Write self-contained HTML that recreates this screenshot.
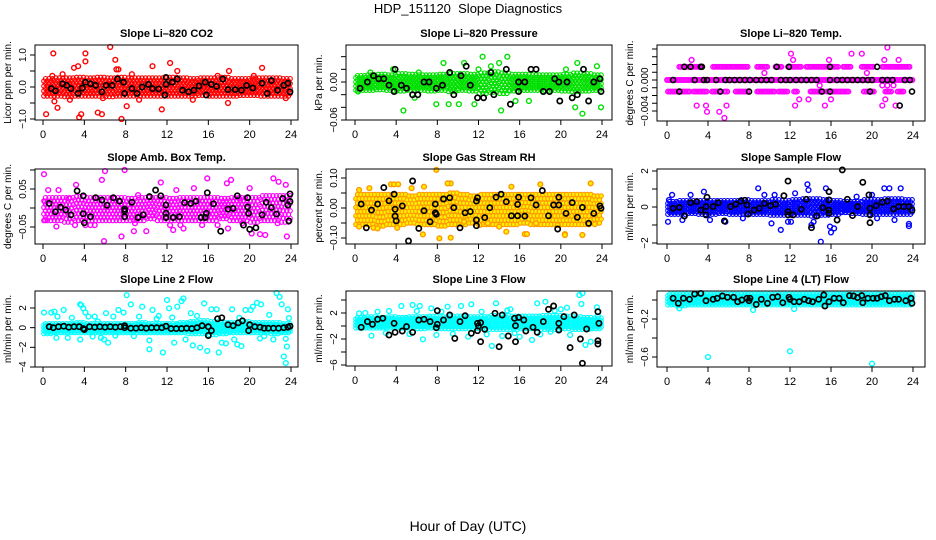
<!DOCTYPE html>
<html><head><meta charset="utf-8"><style>
html,body{margin:0;padding:0;background:#fff;}
svg{display:block;font-family:"Liberation Sans",Arial,sans-serif;}
</style></head><body>
<svg id="chart" width="936" height="540" viewBox="0 0 936 540" xmlns="http://www.w3.org/2000/svg">
<rect x="0" y="0" width="936" height="540" fill="#fff"/>
<text x="468" y="13" text-anchor="middle" font-size="13">HDP_151120&#160; Slope Diagnostics</text>
<text x="468" y="531" text-anchor="middle" font-size="14">Hour of Day (UTC)</text>
</svg>
<script>
// ---------- data ----------
const xTicks=[0,4,8,12,16,20,24];
// panel 1 CO2
const band1Lo=[-0.28,-0.28,-0.3,-0.28,-0.28,-0.28,-0.3,-0.28,-0.28,-0.28,-0.28,-0.28,-0.28,-0.28,-0.28,-0.26,-0.28,-0.28,-0.28,-0.26,-0.26,-0.28,-0.28,-0.28];
const band1Hi=[0.26,0.28,0.28,0.3,0.28,0.3,0.28,0.3,0.28,0.28,0.28,0.28,0.3,0.28,0.26,0.28,0.28,0.3,0.26,0.26,0.28,0.28,0.28,0.26];
const out1=[[1,1.05],[0.3,-0.85],[1.4,-0.65],[1.1,-0.45],[3.0,0.6],[3.4,0.65],[3.5,-0.95],[3.7,-0.85],[4.1,1.05],[4.1,0.8],[5.3,-0.8],[5.7,-0.85],[6.5,1.25],[7.0,0.85],[7.1,0.55],[7.3,0.55],[7.6,-1.0],[8.1,-0.6],[10.6,0.65],[11.5,-0.7],[12.3,0.75],[17.9,-0.5],[18.0,0.5],[21.2,0.6],[1.9,0.4],[8.6,0.4],[13.0,0.5],[0.9,0.35],[2.6,-0.4],[5.8,-0.35],[14.5,-0.4],[9.3,-0.4],[23.5,-0.35],[16.9,0.35],[20.4,0.35]];
const blk1=[[0.8,-0.05],[1.2,-0.12],[1.9,0.1],[2.3,0.05],[2.7,-0.05],[3.4,-0.2],[3.8,-0.03],[4.1,0.15],[4.6,0.1],[5.1,0.05],[5.7,-0.15],[6.1,0.05],[6.7,0.05],[7.2,0.25],[7.8,0.15],[7.9,-0.2],[8.6,-0.05],[9.1,-0.2],[9.6,0.0],[10.2,0.08],[10.6,-0.05],[11.2,-0.06],[11.8,-0.25],[11.9,0.3],[11.9,0.08],[12.5,0.15],[13.0,0.25],[13.5,-0.1],[14.1,-0.15],[14.6,-0.1],[15.1,0.03],[15.7,0.15],[15.8,-0.25],[16.3,0.08],[16.8,0.02],[17.4,0.25],[17.9,-0.08],[18.6,-0.08],[19.2,-0.1],[19.7,0.05],[20.3,-0.03],[21.2,0.12],[21.7,-0.2],[22.1,0.2],[22.7,-0.1],[23.3,0.05],[23.7,0.12],[23.9,-0.15]];
// panel 2 pressure
const band2Lo=[-0.013,-0.013,-0.012,-0.013,-0.014,-0.013,-0.013,-0.014,-0.013,-0.015,-0.013,-0.014,-0.018,-0.016,-0.018,-0.014,-0.013,-0.013,-0.013,-0.013,-0.014,-0.015,-0.014,-0.013];
const band2Hi=[0.01,0.011,0.012,0.011,0.013,0.012,0.011,0.011,0.012,0.013,0.013,0.012,0.014,0.016,0.014,0.012,0.012,0.011,0.011,0.011,0.012,0.014,0.013,0.011];
const out2=[[4.7,-0.045],[7.9,-0.035],[8.6,0.03],[10.6,0.03],[12.4,0.04],[14.2,0.07],[14.0,-0.075],[14.8,0.04],[22.1,-0.05],[23.9,-0.04],[21.4,-0.04],[9.1,-0.035],[10.1,-0.035],[11.6,-0.035],[14.2,-0.045],[12,0.02],[14,0.03],[20.5,0.02],[21.6,0.03],[23.5,0.025],[1.5,0.015],[6.2,0.015],[15.6,-0.03],[16.9,-0.03],[5.8,-0.025],[0.3,-0.015],[3.7,0.02],[13.2,0.025]];
const blk2=[[0.5,-0.01],[1.2,0],[1.8,0.01],[2.3,0.005],[2.8,0.005],[3.3,-0.005],[3.8,-0.015],[3.9,0.02],[4.5,-0.005],[5.0,-0.01],[5.6,-0.02],[6.1,-0.02],[6.7,0],[7.2,0],[7.9,-0.01],[8.5,-0.005],[9.2,0.015],[9.6,-0.02],[10.3,0.01],[10.8,0.025],[11.2,-0.005],[11.9,-0.025],[12.5,-0.025],[13.2,0.015],[13.5,-0.02],[14.7,0.02],[15.1,-0.035],[15.9,0],[15.9,-0.015],[16.5,0],[17.1,0.02],[17.6,0.02],[18.3,-0.015],[18.9,-0.015],[19.4,0.005],[19.8,0],[19.9,-0.03],[20.6,0],[21.1,-0.025],[21.6,-0.02],[22.2,0.02],[22.7,-0.03],[23.2,0],[23.8,0.005],[23.9,-0.015]];
// panel 3 Li-820 temp (quantized levels)
const lvl3=[0.0017,0,-0.0015];
const seg3Up=[[1.2,3.5],[4.5,7.9],[8.8,9.8],[10.6,11.2],[11.8,13.2],[13.6,16.8],[17.2,18.0],[19.0,20.2],[21,23.8]];
const seg3Zero=[[0,24]];
const seg3Dn=[[0.1,2.3],[2.6,4.0],[4.4,5.1],[5.6,6.0],[6.7,7.9],[8.8,10.5],[10.9,11.8],[12.4,12.8],[14.0,15.3],[15.6,17.8],[19.2,20.2],[21.3,22.0],[22.5,23.2]];
const out3=[[2.4,0.0026],[12.1,0.0034],[12.3,0.0026],[18,0.0034],[19,0.0034],[21.5,0.0042],[21.2,0.0026],[22.6,0.0026],[15.8,0.0026],[9.5,0.0009],[19.5,0.0009],[14.9,-0.0007],[21,-0.0007],[21.5,-0.0007],[22.1,-0.0007],[21.3,-0.0025],[12.9,-0.0025],[13.8,-0.0025],[16,-0.0025],[2.9,-0.0033],[3.8,-0.0033],[5.8,-0.0033],[3.9,-0.0041],[5.1,-0.0041],[5.6,-0.0049],[12.5,-0.0033],[15.4,-0.0033],[21,-0.0033],[22.3,-0.0033]];
const blk3Zero=[0.6,2.7,3.6,3.9,4.8,5.7,6.1,6.6,7.1,7.6,8.1,8.7,9.2,9.7,10.2,11.1,11.6,12,12.6,13.1,13.6,14.1,14.6,15.9,16.6,17.1,17.6,18.1,18.6,19.1,19.6,20,21,21.5,22,23.2,23.7];
const blk3Up=[1.7,2.3,3.3,3.4,10.7,11.9,15.9,20.5];
const blk3Dn=[1.2,5.2,8,15.1,15.9,19.8,23.9];
const blk3Extra=[[22.7,-0.0033]];
// panel 4 amb box temp
const band4Lo=[-0.033,-0.033,-0.037,-0.033,-0.033,-0.033,-0.033,-0.033,-0.033,-0.033,-0.028,-0.033,-0.033,-0.033,-0.033,-0.033,-0.033,-0.028,-0.033,-0.033,-0.037,-0.033,-0.033,-0.037];
const band4Hi=[0.027,0.027,0.027,0.03,0.027,0.027,0.027,0.027,0.025,0.027,0.027,0.027,0.025,0.027,0.027,0.027,0.027,0.025,0.027,0.027,0.027,0.032,0.032,0.032];
const out4=[[0.1,0.089],[0.2,0.017],[5.9,-0.087],[6.0,0.097],[7.9,0.1],[5.7,0.074],[3.2,0.061],[11.4,0.067],[7.6,-0.075],[10.0,-0.061],[8.8,-0.061],[12.6,-0.058],[13.6,-0.054],[17.9,-0.054],[20.2,-0.067],[21,-0.069],[21.5,-0.071],[23.6,-0.075],[22.3,0.078],[22.8,0.069],[17.8,0.065],[18.2,0.074],[15.9,0.078],[14.6,0.052],[20.0,0.052],[1.5,0.047],[0.5,0.047],[6.9,0.025],[9.2,0.034],[12.9,0.047],[19.0,0.025],[23.5,0.061],[2.5,0.025],[4.1,-0.045],[4.6,-0.045],[5.0,-0.045],[8.9,-0.04],[13.3,-0.045],[16.9,-0.045],[19.3,-0.04],[0.2,-0.032],[1.3,-0.049],[3.1,-0.045],[15.4,-0.045],[22.7,-0.04],[12.3,-0.045]];
const blk4=[[0.6,0.012],[1.2,-0.01],[1.7,0.002],[2.2,-0.005],[2.7,-0.018],[3.3,0.045],[3.9,0.032],[3.9,-0.015],[4,-0.039],[4.6,-0.023],[5.1,0.027],[5.7,0.021],[6.2,0.007],[6.8,0.027],[7.4,0.018],[7.9,-0.003],[7.9,-0.008],[7.9,-0.023],[8.6,0.015],[9.2,-0.025],[9.7,-0.018],[10.3,0.03],[10.9,0.047],[11.4,0.032],[11.9,0.008],[11.9,-0.014],[11.9,-0.025],[12.6,-0.025],[13.2,-0.023],[13.7,0.014],[14.3,0.012],[14.8,0.018],[15.3,-0.025],[15.7,-0.025],[15.8,-0.014],[15.9,0.04],[16.5,0.011],[17.2,-0.061],[17.9,-0.003],[18.4,-0.001],[18.8,0.032],[19.4,-0.045],[19.8,0.027],[19.9,-0.014],[19.8,0.003],[20.0,-0.056],[20.6,-0.052],[21.2,-0.018],[21.6,0.015],[22.1,0.001],[22.6,-0.016],[23.2,0.025],[23.7,0.008],[23.9,0.037],[23.8,-0.034],[23.9,0.017]];
// panel 5 gas stream RH
const band5Lo=[-0.055,-0.055,-0.06,-0.055,-0.055,-0.05,-0.055,-0.055,-0.06,-0.055,-0.055,-0.05,-0.055,-0.055,-0.055,-0.055,-0.05,-0.055,-0.055,-0.055,-0.055,-0.055,-0.055,-0.05];
const band5Hi=[0.045,0.045,0.045,0.045,0.045,0.04,0.045,0.045,0.045,0.05,0.045,0.04,0.045,0.045,0.045,0.045,0.045,0.045,0.045,0.045,0.045,0.045,0.045,0.04];
const out5=[[7.9,0.127],[8.2,-0.101],[9.3,-0.099],[16.5,-0.087],[16.7,-0.087],[20.4,-0.087],[20.4,-0.09],[22.1,-0.09],[18,0.079],[22.9,0.082],[15.2,0.071],[9.3,0.082],[9.0,0.082],[3.5,0.079],[3.8,0.079],[4.2,0.079],[1.4,0.066],[0.4,0.06],[6.7,0.071],[5.5,0.066],[14.7,-0.079],[12.1,-0.057],[0.4,-0.062],[1.8,-0.066],[2.2,-0.068],[4.1,-0.066],[6.6,-0.088],[14,-0.062],[17.6,-0.051],[19.7,-0.057],[23.3,-0.054],[10.6,-0.046],[12.9,-0.051]];
const blk5=[[0.6,0.013],[1.1,-0.066],[1.6,-0.007],[2.2,0.013],[2.8,0.068],[3.3,0.024],[3.8,0.046],[3.9,-0.004],[3.9,-0.027],[4,-0.043],[4.6,0.007],[5.2,-0.11],[5.6,0.09],[6.2,-0.068],[6.7,-0.009],[7.3,-0.046],[7.8,0.013],[7.8,-0.016],[7.9,-0.021],[8.6,0.03],[9.2,0.034],[9.6,0.001],[10.2,-0.066],[10.7,-0.016],[11.2,-0.012],[11.8,-0.04],[11.8,-0.059],[11.8,0.023],[11.9,0.034],[12.6,-0.032],[13.1,0.001],[13.7,0.036],[14.2,0.046],[14.7,0.021],[15.2,-0.026],[15.8,-0.026],[15.8,0.012],[15.9,0.036],[16.5,-0.027],[17.1,0.034],[17.6,0.01],[18.2,0.058],[18.8,-0.026],[19.3,0.01],[19.7,-0.07],[19.8,0.01],[19.8,0.036],[20.5,-0.018],[21.1,0.018],[21.6,-0.031],[22.1,0.002],[22.7,-0.051],[23.2,-0.018],[23.8,0.007],[23.9,-0.001]];
// panel 6 sample flow
const band6Lo=[-0.4,-0.4,-0.35,-0.4,-0.4,-0.35,-0.4,-0.4,-0.4,-0.4,-0.45,-0.45,-0.45,-0.45,-0.5,-0.45,-0.4,-0.3,-0.35,-0.4,-0.4,-0.4,-0.4,-0.4];
const band6Hi=[0.3,0.35,0.35,0.35,0.35,0.35,0.35,0.4,0.35,0.35,0.4,0.35,0.4,0.45,0.45,0.4,0.35,0.3,0.3,0.4,0.4,0.45,0.45,0.4];
const out6=[[0.1,-0.82],[0.5,0.67],[3.6,0.85],[4.2,-0.72],[5.7,-0.82],[10.2,-0.91],[11.1,-1.27],[13.7,1.26],[13.8,0.94],[14.1,-1],[15,-1.93],[15.5,1.04],[15.8,0.85],[15.9,-1.09],[16.0,-1.41],[16.3,-1.19],[21.2,1.04],[21.7,1.04],[22.2,-0.72],[22.8,1.04],[23.6,-1.06],[23.6,-0.94],[14.3,-0.82],[12.1,-0.82],[11.8,-0.82],[8.9,1.04],[9.5,0.67],[2.3,0.67],[7.4,-0.63],[1.5,-0.72],[0.2,0.39],[10.5,0.67],[12.5,0.76],[20,0.67],[18.5,0.57],[20.5,-0.63]];
const blk6=[[0.6,-0.07],[1.2,-0.02],[1.7,-0.5],[2.3,0.24],[2.9,0.3],[3.3,-0.17],[3.8,0.02],[3.8,-0.44],[3.9,0.54],[4.5,0.02],[5.0,0.24],[5.6,-0.78],[6.2,0.02],[6.7,0.15],[7.2,0.33],[7.6,0.37],[7.8,0.11],[7.9,-0.39],[8.5,-0.17],[9.0,-0.07],[9.5,0.2],[10.1,0.07],[10.6,0.15],[11.4,0.63],[11.8,1.44],[11.8,-0.26],[11.8,-0.44],[12.3,-0.44],[13.1,-0.13],[13.6,0.43],[14.1,-1.15],[14.6,-0.5],[15.2,-0.04],[15.8,0.85],[15.8,0.39],[15.8,-0.17],[15.8,-0.35],[16.6,-0.72],[17.1,2.06],[17.6,0.43],[18.1,-0.48],[18.6,0.02],[19.1,1.37],[19.7,0.67],[19.8,-0.07],[19.8,-0.44],[19.8,-0.87],[20.4,0.07],[21,0.26],[21.5,0.33],[22.1,-0.11],[22.6,0.02],[23.1,0.02],[23.6,0.02],[23.9,-0.17]];
// panel 7 line 2 flow
const band7Lo=[-0.6,-0.5,-0.5,-0.5,-0.5,-0.5,-0.5,-0.5,-0.5,-0.5,-0.5,-0.5,-0.5,-0.5,-0.6,-0.6,-0.7,-0.6,-0.5,-0.5,-0.5,-0.5,-0.6,-0.5];
const band7Hi=[0.4,0.4,0.4,0.5,0.4,0.4,0.4,0.4,0.4,0.5,0.4,0.4,0.4,0.5,0.6,0.7,0.6,0.5,0.5,0.6,0.5,0.5,0.5,0.4];
const out7=[[0.1,1.53],[0.8,1.53],[1.1,1.63],[1.3,-1.03],[1.4,1.13],[2.0,1.8],[2.4,-1.03],[3.6,2.37],[3.7,2.3],[3.6,-1.2],[3.9,1.97],[4.1,1.53],[4.4,1.13],[5.3,0.63],[5.6,-1.03],[5.9,-1.2],[6.1,1.47],[6.3,-1.53],[7.3,1.8],[7.8,1.53],[8.1,3.3],[8.5,2.37],[8.8,-0.87],[9.3,1.13],[10.3,-1.3],[10.3,-2.2],[10.6,1.8],[11.2,1.2],[11.6,-2.53],[12.0,2.8],[12.2,1.97],[12.5,1.03],[12.7,-1.53],[13.4,2.7],[13.6,2.97],[13.8,-1.2],[14.3,1.47],[14.5,-1.8],[15.2,-2.03],[15.6,2.47],[15.9,-2.37],[16.3,1.87],[16.8,1.87],[17.3,-1.53],[17.7,-1.6],[18.3,1.87],[18.8,-1.7],[19.2,-1.87],[19.6,1.8],[20.1,1.8],[20.3,2.13],[20.7,2.53],[21.1,2.37],[21.4,-0.87],[21.9,1.3],[22.3,-1.2],[22.6,3.53],[22.9,3.13],[23.1,2.37],[23.5,-1.13],[23.3,-2.93],[23.5,-3.6],[23.6,-1.93],[23.7,1.87],[23.8,0.97],[17.0,-2.53],[18.5,-1.2],[9.6,2.13],[13,2.13],[6.8,1.13],[5.0,1.13],[2.8,1.0],[4.8,-0.9],[7.0,-0.8],[11.0,0.9],[14.9,1.2],[19.0,1.0],[21.0,-1.1]];
const blk7=[[0.6,0.1],[1.0,0],[1.5,0.1],[2.0,0.15],[2.5,0.05],[3.0,0.1],[3.5,0.1],[3.9,-0.1],[4.0,-0.2],[4.5,0.1],[5.0,0.05],[5.5,0.1],[6.0,0.05],[6.5,0.1],[7.0,0.05],[7.5,0.1],[7.9,0.2],[7.9,0],[8.5,-0.05],[9.0,-0.05],[9.5,0],[10.0,-0.05],[10.5,0],[11.0,0],[11.5,0],[11.9,0.15],[12.4,-0.1],[12.9,-0.1],[13.4,-0.1],[13.9,-0.05],[14.4,-0.1],[14.9,0],[15.4,0.2],[16.0,-0.8],[16.0,0.1],[16.3,-0.3],[16.9,0.9],[17.3,1.0],[17.9,0.3],[18.4,0.2],[18.9,0.5],[19.3,0.7],[19.9,-0.3],[20.0,0.3],[20.5,0.1],[21.0,0.05],[21.4,-0.05],[21.8,-0.05],[22.3,-0.05],[22.8,-0.05],[23.3,0],[23.7,0.05],[23.9,0.15]];
// panel 8 line 3 flow
const band8Lo=[-0.3,-0.3,-0.3,-0.3,-0.3,-0.3,-0.4,-0.3,-0.4,-0.4,-0.4,-0.4,-0.4,-0.5,-0.5,-0.5,-0.4,-0.4,-0.5,-0.5,-0.4,-0.5,-0.5,-0.4];
const band8Hi=[1.3,1.4,1.3,1.4,1.3,1.4,1.4,1.5,1.4,1.5,1.5,1.4,1.4,1.6,1.6,1.5,1.5,1.5,1.6,1.6,1.5,1.4,1.3,1.2];
const out8=[[1.6,-1.49],[2.2,2.2],[3.3,2.31],[4.5,3.08],[5.6,3.23],[6.3,3.08],[6.6,-2.05],[7.4,2.72],[7.9,-1.38],[8.4,2.2],[9,2.97],[10.3,3.08],[11.3,3.34],[12.3,2.2],[13.3,-3.08],[13.7,3.49],[14.3,-1.54],[15.1,2.57],[17.2,-2.15],[17.7,3.49],[18.5,3.74],[19.4,2.36],[20,2.57],[20.6,2.82],[20.9,-1.38],[21.8,4.77],[22.1,5.03],[22.0,3.38],[22.4,-2.92],[22.9,-2.41],[23.5,2.87],[23.6,1.54],[23.8,0.41],[0.4,1.95],[11,-1.64],[16,-1.64],[19,-0.87],[5.3,-1.23],[3.0,-1.1],[9.5,-1.2],[12.8,-1.3],[15.5,-1.1],[18.0,-1.3],[14.8,2.4],[1.0,2.0],[6.0,2.3]];
const blk8=[[0.6,-0.2],[1.2,0.67],[1.7,0.26],[2.2,1.03],[2.7,1.18],[3.3,-1.38],[3.8,0.41],[3.9,-0.97],[4.6,-0.77],[5.0,-0.1],[5.6,-0.97],[6.2,0.92],[6.7,1.03],[7.3,0.67],[7.9,-0.26],[8.0,0.26],[8.0,2.36],[8.6,0.92],[9.2,1.69],[9.7,-1.9],[10.2,0.67],[10.7,1.59],[11.3,-1.13],[11.9,-0.72],[11.9,0.41],[12.0,0],[12.2,0.51],[12.2,-2.41],[12.6,-0.51],[13.6,1.95],[14.0,-3.18],[14.3,1.69],[14.9,-1.54],[15.5,1.18],[15.6,-2.41],[15.6,0.05],[15.9,1.33],[16.4,0.92],[16.6,-0.77],[17.3,-0.2],[17.7,-0.97],[18.3,0.67],[18.8,2.57],[19.3,3.08],[19.8,0.41],[19.8,-0.62],[20.3,1.44],[20.9,-3.33],[21.3,1.69],[21.9,-2],[22.1,-5.74],[22.5,-0.46],[23.6,2.2],[23.7,0.41],[23.6,-2.26],[23.6,-2.77]];
// panel 9 line 4 flow
const band9Lo=[-0.05,-0.06,-0.05,-0.05,-0.05,-0.05,-0.05,-0.05,-0.05,-0.05,-0.05,-0.05,-0.05,-0.05,-0.05,-0.05,-0.05,-0.05,-0.05,-0.05,-0.05,-0.05,-0.05,-0.05];
const band9Hi=[0.06,0.06,0.06,0.06,0.06,0.06,0.06,0.06,0.06,0.06,0.06,0.06,0.06,0.06,0.06,0.06,0.06,0.06,0.06,0.06,0.06,0.06,0.06,0.06];
const out9=[[1.2,-0.088],[4.0,-0.6],[8.4,-0.105],[12.0,-0.54],[12.4,-0.095],[20,-0.67]];
const blk9=[[0.6,0.018],[1.1,-0.035],[1.6,0.018],[2.2,0.007],[2.7,0.063],[3.3,0.07],[3.8,-0.007],[4.5,0.007],[4.9,0.018],[5.4,0.042],[5.9,0.028],[6.5,0.028],[6.9,-0.018],[7.3,0],[7.8,0.018],[8,-0.007],[8.1,0.018],[8.7,-0.046],[9.2,0.007],[9.8,-0.035],[10.3,0.028],[10.8,0.035],[11.3,-0.028],[11.9,0.028],[12,0.007],[12.4,-0.018],[12.9,-0.018],[13.4,0.007],[13.8,-0.007],[14.2,-0.018],[14.8,0.007],[15.3,0.053],[15.4,-0.063],[15.8,-0.018],[16.3,0.018],[16.8,0.018],[17.2,-0.028],[17.8,0.046],[18.2,0.042],[18.6,0.025],[19.0,0.046],[19.1,-0.028],[19.6,0.018],[20.1,0.018],[20.5,0.018],[20.9,0.035],[21.3,0.046],[21.7,-0.007],[22.2,0.007],[22.6,0.007],[23.3,-0.007],[23.8,0.018],[23.9,-0.035]];

// ---------- layout (not data) ----------
const NS="http://www.w3.org/2000/svg";
const svg=document.getElementById('chart');
const panels=[
 {name:'co2',title:'Slope Li\u2013820 CO2',yl:'Licor ppm per min.',box:[35,45,298,120],xr:[43,291],ym:[1,55,-1,119],ticks:[-1,-0.5,0,0.5,1],labels:{'-1':'\u22121.0','0':'0.0','1':'1.0'},col:'#ff0000',fill:'none',lo:band1Lo,hi:band1Hi,out:out1,blk:blk1},
 {name:'pressure',title:'Slope Li\u2013820 Pressure',yl:'kPa per min.',box:[346,45,612,120],xr:[355,602],ym:[0,82,-0.06,120],ticks:[-0.06,-0.04,-0.02,0,0.02,0.04],labels:{'-0.06':'\u22120.06','0':'0.00'},col:'#00e000',fill:'none',lo:band2Lo,hi:band2Hi,out:out2,blk:blk2},
 {name:'li820-temp',title:'Slope Li\u2013820 Temp.',yl:'degrees C per min.',box:[657,45,925,121],xr:[667,913],ym:[0,80,-0.004,111],ticks:[-0.004,-0.003,-0.002,-0.001,0,0.001,0.002,0.003,0.004],labels:{'-0.004':'\u22120.004','0':'0.000'},col:'#ff00ff',fill:'none',special:true,out:out3},
 {name:'amb-box-temp',title:'Slope Amb. Box Temp.',yl:'degrees C per min.',box:[35,169,298,244],xr:[43,291],ym:[0.05,189,-0.05,227],ticks:[-0.05,0,0.05,0.1],labels:{'-0.05':'\u22120.05','0.05':'0.05'},col:'#ff00ff',fill:'none',lo:band4Lo,hi:band4Hi,out:out4,blk:blk4},
 {name:'gas-stream-rh',title:'Slope Gas Stream RH',yl:'percent per min.',box:[346,169,612,244],xr:[355,602],ym:[0.1,178,-0.1,238],ticks:[-0.1,-0.05,0,0.05,0.1],labels:{'-0.1':'\u22120.10','0':'0.00','0.1':'0.10'},col:'#ff9900',fill:'#ffee00',lo:band5Lo,hi:band5Hi,out:out5,blk:blk5},
 {name:'sample-flow',title:'Slope Sample Flow',yl:'ml/min per min.',box:[657,169,925,244],xr:[667,913],ym:[2,171,-2,243],ticks:[-2,-1,0,1,2],labels:{'-2':'\u22122','0':'0','2':'2'},col:'#0000ff',fill:'none',lo:band6Lo,hi:band6Hi,out:out6,blk:blk6},
 {name:'line2-flow',title:'Slope Line 2 Flow',yl:'ml/min per min.',box:[35,291,298,367],xr:[43,291],ym:[2,308,-4,367],ticks:[-4,-2,0,2],labels:{'-4':'\u22124','-2':'\u22122','0':'0','2':'2'},col:'#00ffff',fill:'none',lo:band7Lo,hi:band7Hi,out:out7,blk:blk7},
 {name:'line3-flow',title:'Slope Line 3 Flow',yl:'ml/min per min.',box:[346,291,612,366],xr:[355,602],ym:[2,313,-6,365],ticks:[-6,-4,-2,0,2,4],labels:{'-6':'\u22126','-2':'\u22122','2':'2'},col:'#00ffff',fill:'none',lo:band8Lo,hi:band8Hi,out:out8,blk:blk8},
 {name:'line4-flow',title:'Slope Line 4 (LT) Flow',yl:'ml/min per min.',box:[657,291,925,367],xr:[667,913],ym:[0,300,-0.6,357],ticks:[-0.6,-0.4,-0.2,0],labels:{'-0.6':'\u22120.6','-0.2':'\u22120.2'},col:'#00ffff',fill:'none',lo:band9Lo,hi:band9Hi,out:out9,blk:blk9}
];
function mk(tag,attrs,parent){const e=document.createElementNS(NS,tag);for(const k in attrs)e.setAttribute(k,attrs[k]);(parent||svg).appendChild(e);return e;}

panels.forEach(p=>{
  const g=mk('g',{});
  
  
  const [L,T,R,B]=p.box;
  const xs=h=>p.xr[0]+(p.xr[1]-p.xr[0])*h/24;
  const ys=v=>p.ym[1]+(v-p.ym[0])*(p.ym[3]-p.ym[1])/(p.ym[2]-p.ym[0]);
  const marks=mk('g',{},g);
  
  
  function pt(x,y,col,fill,sw,r,nm){
    const yy=ys(y); if(yy<T-2||yy>B+2) return;
    const c=mk('circle',{cx:xs(x).toFixed(1),cy:yy.toFixed(1),r:r,fill:fill,stroke:col,'stroke-width':sw},marks);
    
    
  }
  if(p.special){
    const rows=[[seg3Up,lvl3[0]],[seg3Zero,lvl3[1]],[seg3Dn,lvl3[2]]];
    rows.forEach(([segs,lv])=>segs.forEach(s=>{for(let x=s[0];x<=s[1];x+=0.14)pt(x,lv,p.col,'none',1.3,2.3,'band-point');}));
    p.out.forEach(o=>pt(o[0],o[1],p.col,'none',1.4,2.4,'outlier-point'));
    blk3Zero.forEach(x=>pt(x,lvl3[1],'#000','none',1.6,2.5,'black-point'));
    blk3Up.forEach(x=>pt(x,lvl3[0],'#000','none',1.6,2.5,'black-point'));
    blk3Dn.forEach(x=>pt(x,lvl3[2],'#000','none',1.6,2.5,'black-point'));
    blk3Extra.forEach(o=>pt(o[0],o[1],'#000','none',1.6,2.5,'black-point'));
  } else {
    const nk=6,nr=4;
    for(let h=0;h<24;h++){
      for(let k=0;k<nk;k++){
        const x=h+(k+0.5)/nk;
        for(let r=0;r<nr;r++){
          const f=(r+0.5*(k%2))/(nr-0.5);
          pt(x,p.lo[h]+(p.hi[h]-p.lo[h])*f,p.col,p.fill,1.1,2.2,'band-point');
        }
      }
    }
    p.out.forEach(o=>pt(o[0],o[1],p.col,p.fill,1.4,2.4,'outlier-point'));
    p.blk.forEach(o=>pt(o[0],o[1],'#000','none',1.7,2.6,'black-point'));
  }
  const bx=mk('rect',{x:L,y:T,width:R-L,height:B-T,fill:'none',stroke:'#000','stroke-width':1},g);
  
  
  const t=mk('text',{x:(L+R)/2,y:T-8,'text-anchor':'middle','font-size':11,'font-weight':'bold'},g);
  t.textContent=p.title;
  
  
  const xa=mk('g',{},g);
  
  
  mk('line',{x1:xs(0),x2:xs(24),y1:B,y2:B,stroke:'#000'},xa);
  xTicks.forEach(v=>{
    mk('line',{x1:xs(v),x2:xs(v),y1:B,y2:B+5,stroke:'#000'},xa);
    const tl=mk('text',{x:xs(v),y:B+18,'text-anchor':'middle','font-size':11},xa);
    tl.textContent=String(v);
    
    
  });
  const ya=mk('g',{},g);
  
  
  const tv=p.ticks;
  mk('line',{x1:L,x2:L,y1:ys(tv[0]),y2:ys(tv[tv.length-1]),stroke:'#000'},ya);
  tv.forEach(v=>{
    const y=ys(v);
    mk('line',{x1:L-5,x2:L,y1:y,y2:y,stroke:'#000'},ya);
    const key=String(v);
    if(p.labels[key]!==undefined){
      const tl=mk('text',{x:L-9,y:y,'text-anchor':'middle','font-size':10,transform:`rotate(-90 ${L-9} ${y})`},ya);
      tl.textContent=p.labels[key];
      
      
    }
  });
  const yt=mk('text',{x:L-24,y:(T+B)/2,'text-anchor':'middle','font-size':10,transform:`rotate(-90 ${L-24} ${(T+B)/2})`},g);
  yt.textContent=p.yl;
  
  
});
</script>
</body></html>
